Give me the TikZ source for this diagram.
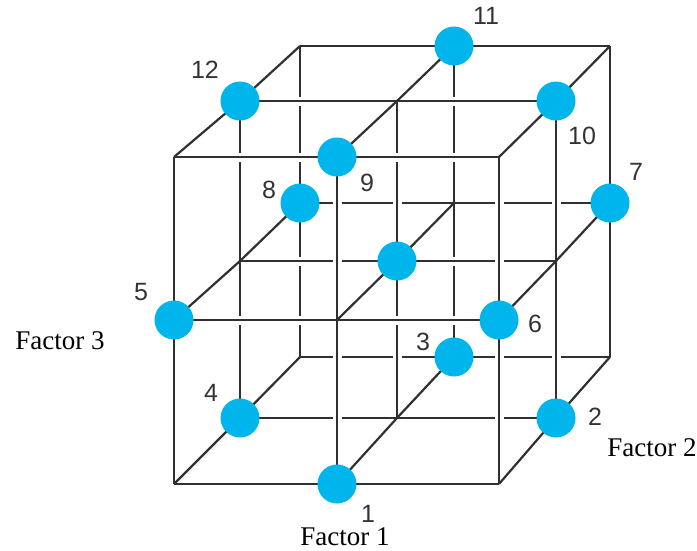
\documentclass[tikz,border=0pt]{standalone}
\usepackage{fontspec}
\setmainfont{Liberation Serif}
\newfontfamily\numfont{Liberation Sans}
\definecolor{linecol}{HTML}{303030}
\definecolor{dotcol}{HTML}{00B5EC}
\definecolor{numcol}{HTML}{333333}
\begin{document}
\begin{tikzpicture}[x=1pt,y=-1pt,
  gridline/.style={draw=linecol, line width=2.2pt,
    preaction={draw=white, line width=9pt, shorten >=7pt, shorten <=7pt}},
  dot/.style={circle, fill=dotcol, draw=none, minimum size=39pt, inner sep=0pt},
  num/.style={inner sep=0pt, text=numcol, font=\numfont\fontsize{25}{30}\selectfont},
  factor/.style={inner sep=0pt, text=black, font=\fontsize{27}{32}\selectfont}]
\useasboundingbox (0,0) rectangle (697,550);
% lattice points p-i-j-k : i left->right, j bottom->top, k front->back
\foreach \k/\xa/\xb/\xc/\ya/\yb/\yc in
  {0/174/337/499/484/320/157, 1/240/397/556/418/261/101, 2/300/454/610/357/203/46}{
  \foreach \i/\x in {0/\xa,1/\xb,2/\xc}{
    \foreach \j/\y in {0/\ya,1/\yb,2/\yc}{
      \coordinate (p-\i-\j-\k) at (\x,\y);
    }
  }
}
% depth segments
\foreach \i in {0,1,2}{
  \foreach \j in {0,1,2}{
    \foreach \k/\kk in {0/1,1/2}{
      \draw[gridline] (p-\i-\j-\k) -- (p-\i-\j-\kk);
    }
  }
}
% planes, back to front
\foreach \k in {2,1,0}{
  \foreach \a/\b in {0/1,1/2}{
    \foreach \c in {0,1,2}{
      \draw[gridline] (p-\a-\c-\k) -- (p-\b-\c-\k);
      \draw[gridline] (p-\c-\a-\k) -- (p-\c-\b-\k);
    }
  }
}
% design points
\node[dot] (n1) at (p-1-0-0) {};
\node[dot] (n2) at (p-2-0-1) {};
\node[dot] (n3) at (p-1-0-2) {};
\node[dot] (n4) at (p-0-0-1) {};
\node[dot] (n5) at (p-0-1-0) {};
\node[dot] (n6) at (p-2-1-0) {};
\node[dot] (n7) at (p-2-1-2) {};
\node[dot] (n8) at (p-0-1-2) {};
\node[dot] (n9) at (p-1-2-0) {};
\node[dot] (n10) at (p-2-2-1) {};
\node[dot] (n11) at (p-1-2-2) {};
\node[dot] (n12) at (p-0-2-1) {};
\node[dot] (nc) at (p-1-1-1) {};
% labels
\node[num] (l1) at (368,514) {1};
\node[num] (l2) at (595,417) {2};
\node[num] (l3) at (423,342) {3};
\node[num] (l4) at (211,393) {4};
\node[num] (l5) at (141,292) {5};
\node[num] (l6) at (535,324) {6};
\node[num] (l7) at (636,172) {7};
\node[num] (l8) at (269,190) {8};
\node[num] (l9) at (367,183) {9};
\node[num] (l10) at (582,136) {10};
\node[num] (l11) at (486,16) {11};
\node[num] (l12) at (205,70) {12};
\node[factor] (f1) at (345,537) {Factor 1};
\node[factor] (f2) at (652,448) {Factor 2};
\node[factor] (f3) at (60,341) {Factor 3};
\end{tikzpicture}
\end{document}
